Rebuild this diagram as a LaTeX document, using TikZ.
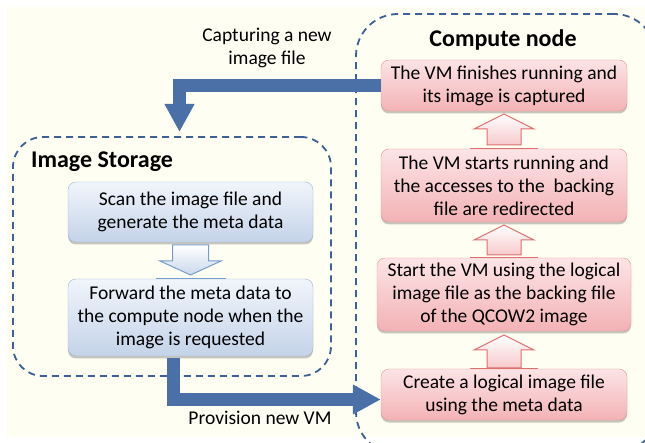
\documentclass[tikz,border=0pt]{standalone}
\usepackage{fontspec}
\setmainfont{Carlito}
\definecolor{bgcream}{RGB}{254,254,242}
\definecolor{frameblue}{RGB}{62,96,150}
\definecolor{flowblue}{RGB}{74,112,167}
\definecolor{redtop}{RGB}{252,228,230}
\definecolor{redbot}{RGB}{243,178,181}
\definecolor{redline}{RGB}{230,150,152}
\definecolor{redarrow}{RGB}{222,112,112}
\definecolor{bluetop}{RGB}{241,245,251}
\definecolor{bluebot}{RGB}{196,211,233}
\definecolor{blueline}{RGB}{158,183,214}
\definecolor{bluearrow}{RGB}{118,157,204}
\usetikzlibrary{arrows.meta, positioning, shadows}
\tikzset{
    groupbox/.style={rectangle, rounded corners=30, draw=frameblue, line width=1.8,
                     dash pattern=on 7pt off 5pt},
    grouptitle/.style={font=\fontsize{24}{28}\selectfont\bfseries, inner sep=0},
    redbox/.style={rectangle, rounded corners=8, draw=redline, top color=redtop, bottom color=redbot,
                   minimum width=246, minimum height=51, align=center, inner sep=0,
                   font=\fontsize{19.5}{23}\selectfont,
                   drop shadow={shadow xshift=0pt, shadow yshift=-2.5pt, fill=black, opacity=0.22}},
    bluebox/.style={redbox, draw=blueline, top color=bluetop, bottom color=bluebot,
                    minimum width=245, minimum height=60},
    uparrow/.style={draw=redarrow, line width=1, top color=white, bottom color=redbot!70},
    downarrow/.style={draw=bluearrow, line width=1, top color=white, bottom color=bluebot!90},
    redtick/.style={draw=redarrow, line width=1.2},
    bluetick/.style={draw=bluearrow, line width=1.2},
    flowarrow/.style={-{Triangle[width=28pt, length=28pt]}, line width=13, flowblue},
    flowlabel/.style={font=\fontsize{19.5}{23}\selectfont, align=center, inner sep=0},
}
\begin{document}
\begin{tikzpicture}[x=1pt, y=-1pt]
    % Background
    \clip (0,0) rectangle (645,443);
    \fill[white] (0,0) rectangle (645,443);
    \fill[bgcream] (6,7) rectangle (645,437);

    % Group frames
    \node[groupbox, minimum width=318, minimum height=239] (store) at (172,256.5) {};
    \node[groupbox, rounded corners=42, minimum width=300, minimum height=440] (compute) at (506,234) {};
    \node[grouptitle, anchor=west] (storetitle) at (31,162) {Image Storage};
    \node[grouptitle] (computetitle) at (503,40) {Compute node};

    % Image storage side
    \node[bluebox] (scan) at (190.5,212) {Scan the image file and\\generate the meta data};
    \node[bluebox, minimum height=77] (forward) at (190.5,317.5) {Forward the meta data to\\the compute node when the\\image is requested};
    \coordinate (down1) at (190.5,245);
    \draw[downarrow] (down1) ++(-18,0) -- ++(0,16) -- ++(-12.5,0) -- ++(30.5,14)
        -- ++(30.5,-14) -- ++(-12.5,0) -- ++(0,-16) -- cycle;
    \draw[bluetick] ([xshift=-35pt]forward.north) -- ([xshift=35pt]forward.north);

    % Compute node side
    \node[redbox] (finish) at (504,85.5) {The VM finishes running and\\its image is captured};
    \node[redbox, minimum height=73] (running) at (504,185.5) {The VM starts running and\\the accesses to the\ \ backing\\file are redirected};
    \node[redbox, minimum width=254, minimum height=73] (startvm) at (504,294.5) {Start the VM using the logical\\image file as the backing file\\of the QCOW2 image};
    \node[redbox] (create) at (504,394.5) {Create a logical image file\\using the meta data};
    \coordinate (up1) at (504,145);
    \coordinate (up2) at (504,255);
    \coordinate (up3) at (504,368);
    \draw[uparrow] (up1) ++(-17,0) -- ++(0,-16) -- ++(-13,0) -- ++(30,-15)
        -- ++(30,15) -- ++(-13,0) -- ++(0,16) -- cycle;
    \draw[uparrow] (up2) ++(-17,0) -- ++(0,-15) -- ++(-13,0) -- ++(30,-15)
        -- ++(30,15) -- ++(-13,0) -- ++(0,15) -- cycle;
    \draw[uparrow] (up3) ++(-17,0) -- ++(0,-18) -- ++(-13,0) -- ++(30,-15)
        -- ++(30,15) -- ++(-13,0) -- ++(0,18) -- cycle;
    \draw[redtick] ([xshift=-34pt]running.north) -- ([xshift=34pt]running.north);
    \draw[redtick] ([xshift=-34pt]startvm.north) -- ([xshift=34pt]startvm.north);
    \draw[redtick] ([xshift=-34pt]create.north) -- ([xshift=34pt]create.north);

    % Flows between the two sides
    \coordinate (captip) at (179.5,132);
    \coordinate (provstart) at (173,358);
    \draw[flowarrow] (finish.west) -| (captip);
    \draw[flowarrow] (provstart) |- ([yshift=-5pt]create.west);
    \node[flowlabel] (caplabel) at (267,48) {Capturing a new\\image file};
    \node[flowlabel] (provlabel) at (260,418) {Provision new VM};
\end{tikzpicture}
\end{document}
